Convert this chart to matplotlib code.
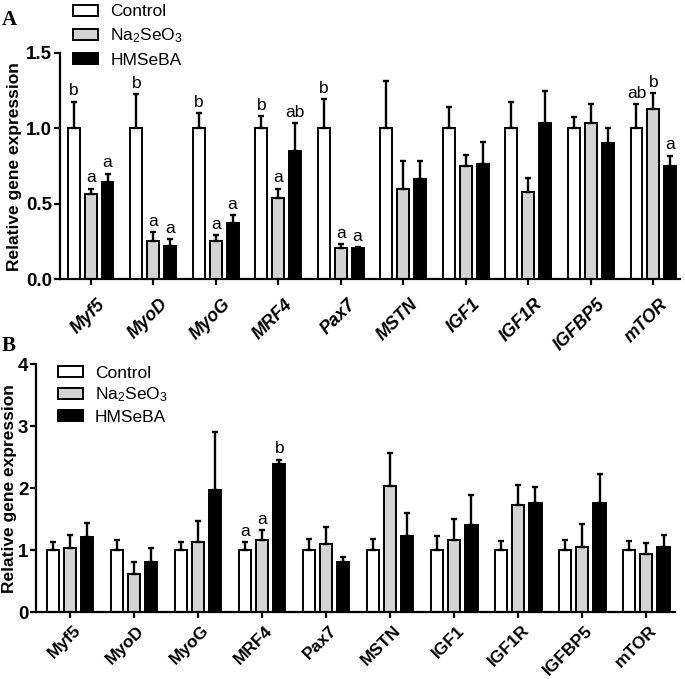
import matplotlib.pyplot as plt
import matplotlib.transforms as mtransforms
import numpy as np
from matplotlib.patches import Patch

plt.rcParams['font.family'] = ['Liberation Sans', 'DejaVu Sans']
plt.rcParams['mathtext.default'] = 'regular'

genes = ['Myf5', 'MyoD', 'MyoG', 'MRF4', 'Pax7', 'MSTN', 'IGF1', 'IGF1R', 'IGFBP5', 'mTOR']
groups = ['Control', 'Na$_2$SeO$_3$', 'HMSeBA']
colors = ['white', '#d3d3d3', 'black']

# panel A: bar heights and upper tips of the error bars
a_ctrl = [1.0, 1.0, 1.0, 1.0, 1.0, 1.0, 1.0, 1.0, 1.0, 1.0]
a_ctrl_top = [1.176, 1.225, 1.10, 1.082, 1.192, 1.313, 1.143, 1.172, 1.075, 1.161]
a_na = [0.565, 0.256, 0.256, 0.536, 0.205, 0.60, 0.75, 0.58, 1.033, 1.126]
a_na_top = [0.60, 0.313, 0.293, 0.60, 0.232, 0.783, 0.821, 0.669, 1.161, 1.232]
a_hm = [0.646, 0.223, 0.371, 0.852, 0.205, 0.664, 0.764, 1.037, 0.90, 0.752]
a_hm_top = [0.70, 0.267, 0.426, 1.033, 0.214, 0.783, 0.907, 1.249, 1.0, 0.819]
a_ctrl_let = ['b', 'b', 'b', 'b', 'b', '', '', '', '', 'ab']
a_na_let = ['a', 'a', 'a', 'a', 'a', '', '', '', '', 'b']
a_hm_let = ['a', 'a', 'a', 'ab', 'a', '', '', '', '', 'a']

# panel B
b_ctrl = [1.0, 1.0, 1.0, 1.0, 1.0, 1.0, 1.0, 1.0, 1.0, 1.0]
b_ctrl_top = [1.14, 1.16, 1.13, 1.13, 1.18, 1.175, 1.23, 1.143, 1.165, 1.143]
b_na = [1.04, 0.617, 1.14, 1.165, 1.095, 2.04, 1.165, 1.728, 1.052, 0.945]
b_na_top = [1.245, 0.805, 1.47, 1.326, 1.369, 2.566, 1.508, 2.06, 1.417, 1.122]
b_hm = [1.22, 0.805, 1.975, 2.394, 0.805, 1.224, 1.406, 1.755, 1.755, 1.047]
b_hm_top = [1.44, 1.03, 2.91, 2.458, 0.886, 1.594, 1.884, 2.02, 2.233, 1.25]
b_ctrl_let = ['', '', '', 'a', '', '', '', '', '', '']
b_na_let = ['', '', '', 'a', '', '', '', '', '', '']
b_hm_let = ['', '', '', 'b', '', '', '', '', '', '']


def draw(ax, series, letters):
    x = np.arange(len(genes))
    for k, ((m, t), lets) in enumerate(zip(series, letters)):
        pos = x + (k - 1) * 0.27
        m = np.array(m)
        err = np.array(t) - m
        ax.bar(pos, m, 0.19, color=colors[k], edgecolor='black', linewidth=1.4,
               yerr=[np.zeros(len(m)), err],
               error_kw=dict(ecolor='black', elinewidth=1.7, capsize=2.5, capthick=1.7),
               zorder=2)
        for p, tp, s in zip(pos, t, lets):
            if s:
                ax.annotate(s, (p, tp), xytext=(0, 2.5), textcoords='offset points',
                            ha='center', va='bottom', fontsize=12.5)
    for s in ['top', 'right']:
        ax.spines[s].set_visible(False)
    for s in ['left', 'bottom']:
        ax.spines[s].set_linewidth(1.6)
    ax.tick_params(width=1.6, length=4, labelsize=13.5)
    ax.tick_params(axis='y', pad=1.5)
    ax.set_xticks(x)
    ax.set_ylabel('Relative gene expression', fontsize=12.5, fontweight='bold')
    handles = [Patch(facecolor=c, edgecolor='black', linewidth=1.4) for c in colors]
    return handles


def shift_labels(fig, ax, dx, dy):
    off = mtransforms.ScaledTranslation(dx / 100, dy / 100, fig.dpi_scale_trans)
    for lab in ax.get_xticklabels():
        lab.set_transform(lab.get_transform() + off)


fig = plt.figure(figsize=(6.85, 6.79), dpi=100)
ax1 = fig.add_axes([0.0876, 0.5887, 0.9054, 0.3333])
ax2 = fig.add_axes([0.0526, 0.0982, 0.9329, 0.3653])

h = draw(ax1, [(a_ctrl, a_ctrl_top), (a_na, a_na_top), (a_hm, a_hm_top)],
         [a_ctrl_let, a_na_let, a_hm_let])
ax1.set_ylim(0, 1.5)
ax1.set_yticks([0, 0.5, 1.0, 1.5])
ax1.set_yticklabels(['0.0', '0.5', '1.0', '1.5'], fontweight='bold')
ax1.set_xlim(-0.49, 9.43)
ax1.set_xticklabels(genes, rotation=45, ha='right', rotation_mode='anchor',
                    fontweight='bold', fontstyle='italic', fontsize=13)
shift_labels(fig, ax1, 6, -6)
ax1.yaxis.set_label_coords(-0.061, 0.5)
ax1.legend(h, groups, loc='upper left', bbox_to_anchor=(0.021, 1.215), frameon=False,
           fontsize=12.5, handlelength=1.45, handleheight=0.6, labelspacing=0.42,
           borderaxespad=0, borderpad=0, handletextpad=0.7)

h = draw(ax2, [(b_ctrl, b_ctrl_top), (b_na, b_na_top), (b_hm, b_hm_top)],
         [b_ctrl_let, b_na_let, b_hm_let])
ax2.set_ylim(0, 4)
ax2.set_yticks([0, 1, 2, 3, 4])
ax2.set_yticklabels(['0', '1', '2', '3', '4'], fontweight='bold')
ax2.set_xlim(-0.53, 9.45)
ax2.set_xticklabels(genes, rotation=45, ha='right', rotation_mode='anchor',
                    fontweight='bold', fontsize=12.5)
shift_labels(fig, ax2, 3, 0)
ax2.yaxis.set_label_coords(-0.030, 0.5)
ax2.legend(h, groups, loc='upper left', bbox_to_anchor=(0.034, 0.995), frameon=False,
           fontsize=12.5, handlelength=1.45, handleheight=0.6, labelspacing=0.3,
           borderaxespad=0, borderpad=0, handletextpad=0.7)

fig.text(0.003, 0.985, 'A', fontsize=15, fontweight='bold', family='Liberation Serif', va='top')
fig.text(0.003, 0.505, 'B', fontsize=15, fontweight='bold', family='Liberation Serif', va='top')

fig.savefig('out.png', dpi=100)
